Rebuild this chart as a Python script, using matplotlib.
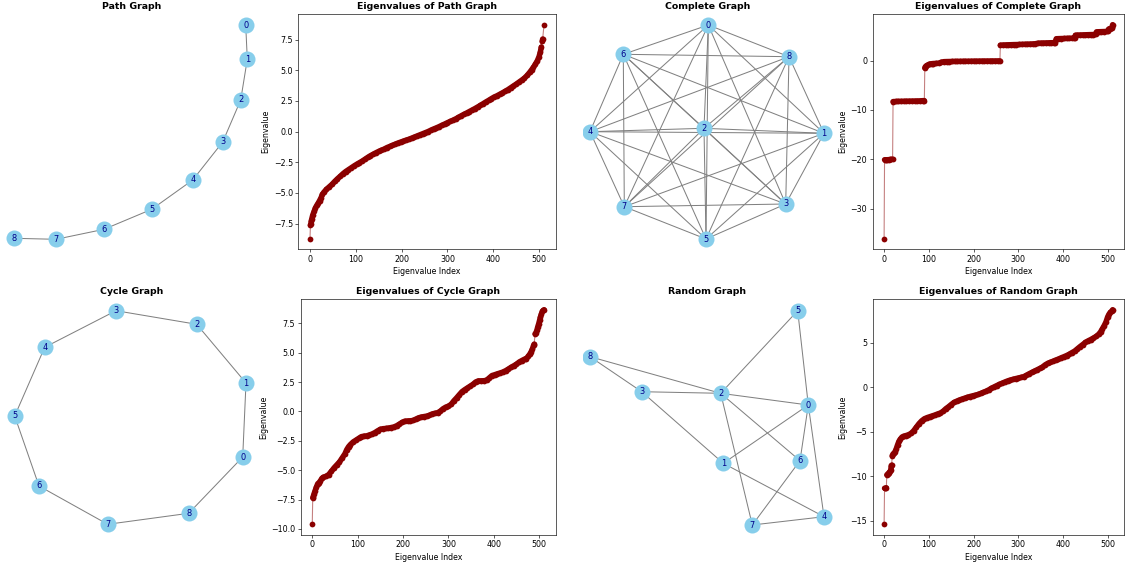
import matplotlib
matplotlib.use("Agg")
import matplotlib.pyplot as plt
import itertools

DPI = 56.3
W, H = 1126, 563

# ---------------- Graph data (node positions, pixel units) ----------------
path_nodes = [0, 1, 2, 3, 4, 5, 6, 7, 8]
path_pos = [(245.7, 25), (247.3, 59.3), (240.7, 100), (222.7, 142), (192.7, 180),
            (151.7, 209.3), (104, 229.3), (56, 239.3), (14, 238.3)]
path_edges = [(0, 1), (1, 2), (2, 3), (3, 4), (4, 5), (5, 6), (6, 7), (7, 8)]

complete_nodes = [0, 1, 2, 3, 4, 5, 6, 7, 8]
complete_pos = [(708.3, 25), (824, 133.3), (704, 128.3), (785.7, 204), (590, 131.7),
                (706, 239), (623.3, 54.3), (624.3, 206.7), (789, 56.7)]
complete_edges = list(itertools.combinations(complete_nodes, 2))

cycle_nodes = [0, 1, 2, 3, 4, 5, 6, 7, 8]
cycle_pos = [(242.7, 457), (246, 383), (196.7, 324.3), (116, 310.7), (44.7, 347.3),
             (14.7, 416), (39, 486), (107.7, 524.3), (188.7, 513.3)]
cycle_edges = [(0, 1), (1, 2), (2, 3), (3, 4), (4, 5), (5, 6), (6, 7), (7, 8), (8, 0)]

random_nodes = [0, 1, 2, 3, 4, 5, 6, 7, 8]
random_pos = [(808.3, 405), (723.3, 463.3), (720.7, 393.3), (641.7, 391.7), (824, 516.7),
              (797.7, 310.7), (800, 460.7), (752.3, 525), (590, 356.7)]
random_edges = [(5, 2), (5, 0), (8, 2), (8, 3), (3, 2), (3, 1), (2, 0), (2, 6), (2, 7),
                (0, 1), (0, 6), (0, 4), (1, 4), (6, 7), (7, 4)]

# ---------------- Eigenvalue data (index, value) ----------------
path_data = [
    (0, -8.72), (1, -7.6), (2, -7.5), (3, -7.25), (4, -7.1), (6, -6.8), (9, -6.5),
    (12, -6.2), (15, -6.0), (18, -5.82), (21, -5.62), (24, -5.4), (27, -5.12), (30, -4.95),
    (36, -4.7), (42, -4.5), (48, -4.3), (54, -4.06), (60, -3.84), (66, -3.64), (72, -3.43),
    (78, -3.25), (84, -3.1), (90, -2.95), (96, -2.8), (102, -2.66), (108, -2.53),
    (114, -2.4), (120, -2.25), (126, -2.1), (132, -1.96), (138, -1.84), (144, -1.72),
    (150, -1.61), (156, -1.51), (162, -1.42), (168, -1.3), (174, -1.21), (180, -1.12),
    (186, -1.02), (192, -0.93), (198, -0.85), (204, -0.77), (210, -0.69), (216, -0.62),
    (222, -0.53), (228, -0.44), (234, -0.35), (240, -0.26), (246, -0.17), (252, -0.08),
    (258, 0.01), (264, 0.12), (270, 0.22), (276, 0.31), (282, 0.41), (288, 0.52),
    (294, 0.62), (300, 0.73), (306, 0.83), (312, 0.93), (318, 1.04), (324, 1.16),
    (330, 1.29), (336, 1.41), (342, 1.52), (348, 1.64), (354, 1.76), (360, 1.88),
    (366, 2.01), (372, 2.14), (378, 2.28), (384, 2.42), (390, 2.55), (396, 2.69),
    (402, 2.82), (408, 2.92), (414, 3.04), (420, 3.16), (426, 3.29), (432, 3.42),
    (438, 3.57), (444, 3.72), (450, 3.87), (456, 4.03), (462, 4.19), (468, 4.36),
    (474, 4.58), (480, 4.85), (484, 5.05), (488, 5.25), (492, 5.5), (496, 5.75),
    (500, 6.1), (503, 6.5), (505, 6.9), (507, 7.35), (508, 7.55), (511, 8.72)]

complete_data = [
    (0, -36.1), (1, -20.1), (4, -20.1), (7, -20.1), (10, -20.08), (13, -20.05), (16, -20.05),
    (19, -20.0), (20, -8.3), (26, -8.28), (32, -8.26), (38, -8.25), (44, -8.24), (50, -8.22),
    (56, -8.21), (62, -8.2), (68, -8.19), (74, -8.18), (80, -8.16), (86, -8.12), (90, -8.1),
    (91, -1.5), (92, -1.25), (94, -1.05), (97, -0.9), (100, -0.75), (103, -0.66),
    (106, -0.62), (110, -0.58), (116, -0.55), (122, -0.52), (128, -0.3), (134, -0.2),
    (140, -0.18), (146, -0.17), (152, -0.16), (158, -0.15), (164, -0.15), (170, -0.14),
    (176, -0.13), (182, -0.12), (188, -0.12), (194, -0.11), (200, -0.1), (206, -0.1),
    (212, -0.09), (218, -0.08), (224, -0.08), (230, -0.07), (236, -0.07), (242, -0.06),
    (248, -0.06), (254, -0.05), (259, -0.05), (260, 3.15), (266, 3.18), (272, 3.2),
    (278, 3.22), (284, 3.24), (290, 3.26), (296, 3.27), (302, 3.29), (308, 3.31),
    (314, 3.33), (320, 3.35), (326, 3.37), (332, 3.4), (338, 3.43), (344, 3.55),
    (350, 3.57), (356, 3.58), (362, 3.6), (368, 3.62), (374, 3.64), (380, 3.66),
    (383, 3.68), (385, 4.45), (390, 4.47), (396, 4.49), (402, 4.5), (408, 4.52),
    (414, 4.54), (420, 4.56), (425, 4.58), (427, 4.6), (428, 5.15), (432, 5.2),
    (438, 5.21), (444, 5.23), (450, 5.25), (456, 5.27), (462, 5.29), (468, 5.3),
    (473, 5.32), (475, 5.85), (480, 5.87), (486, 5.89), (492, 5.91), (498, 5.93),
    (500, 5.95), (502, 6.4), (504, 6.5), (506, 6.52), (508, 6.56), (509, 6.6),
    (510, 6.8), (511, 7.3)]

cycle_data = [
    (0, -9.6), (1, -7.35), (2, -7.25), (4, -7.0), (6, -6.77), (9, -6.45), (12, -6.15),
    (15, -6.05), (18, -5.9), (21, -5.7), (24, -5.6), (30, -5.52), (36, -5.38), (42, -5.1),
    (48, -4.8), (54, -4.55), (60, -4.3), (66, -3.95), (72, -3.6), (76, -3.25), (80, -3.0),
    (84, -2.82), (90, -2.6), (96, -2.45), (102, -2.3), (108, -2.15), (114, -2.1),
    (120, -2.08), (126, -2.0), (132, -1.92), (138, -1.8), (144, -1.65), (150, -1.52),
    (156, -1.47), (162, -1.45), (168, -1.42), (174, -1.37), (180, -1.32), (186, -1.22),
    (192, -1.08), (198, -0.93), (204, -0.83), (210, -0.81), (216, -0.8), (222, -0.77),
    (228, -0.66), (234, -0.55), (240, -0.48), (246, -0.44), (252, -0.4), (258, -0.33),
    (264, -0.22), (270, -0.16), (276, -0.12), (282, 0.02), (288, 0.22), (294, 0.36),
    (300, 0.45), (306, 0.6), (312, 0.9), (318, 1.15), (324, 1.42), (330, 1.68),
    (336, 1.85), (342, 2.0), (348, 2.15), (354, 2.3), (360, 2.5), (366, 2.6), (372, 2.6),
    (378, 2.61), (384, 2.65), (390, 2.85), (396, 3.05), (402, 3.12), (408, 3.2),
    (414, 3.27), (420, 3.35), (426, 3.46), (432, 3.6), (438, 3.75), (444, 3.88),
    (450, 4.02), (456, 4.2), (462, 4.33), (468, 4.45), (472, 4.5), (476, 4.7),
    (479, 4.85), (482, 5.05), (485, 5.3), (488, 5.65), (489, 5.72), (491, 6.6),
    (493, 6.7), (495, 6.9), (497, 7.2), (499, 7.45), (501, 7.75), (503, 8.05),
    (505, 8.3), (507, 8.5), (509, 8.6), (511, 8.65)]

random_data = [
    (0, -15.4), (1, -11.35), (3, -11.35), (5, -11.3), (6, -9.85), (8, -9.75), (10, -9.65),
    (12, -9.55), (14, -9.4), (15, -9.35), (16, -8.8), (17, -8.75), (18, -7.7), (20, -7.5),
    (22, -7.4), (24, -7.3), (27, -6.95), (30, -6.5), (33, -6.1), (36, -5.85), (40, -5.6),
    (44, -5.5), (48, -5.45), (54, -5.35), (60, -5.2), (66, -4.9), (72, -4.5), (78, -4.1),
    (84, -3.78), (90, -3.55), (96, -3.42), (102, -3.32), (108, -3.22), (114, -3.12),
    (120, -3.0), (126, -2.9), (132, -2.7), (138, -2.42), (144, -2.2), (150, -1.95),
    (156, -1.72), (162, -1.58), (168, -1.45), (174, -1.34), (180, -1.24), (186, -1.14),
    (192, -1.05), (198, -0.97), (204, -0.9), (210, -0.82), (216, -0.7), (222, -0.58),
    (228, -0.45), (234, -0.3), (240, -0.12), (246, 0.03), (252, 0.18), (258, 0.32),
    (264, 0.45), (270, 0.58), (276, 0.7), (282, 0.8), (288, 0.88), (294, 0.96),
    (300, 1.03), (306, 1.1), (312, 1.18), (318, 1.32), (324, 1.5), (330, 1.65),
    (336, 1.8), (342, 1.95), (348, 2.1), (354, 2.26), (360, 2.5), (366, 2.68),
    (372, 2.8), (378, 2.92), (384, 3.05), (390, 3.16), (396, 3.3), (402, 3.42),
    (408, 3.55), (414, 3.7), (420, 3.88), (426, 4.05), (432, 4.3), (438, 4.55),
    (444, 4.78), (450, 5.02), (456, 5.2), (462, 5.35), (468, 5.52), (474, 5.7),
    (480, 5.95), (484, 6.2), (488, 6.55), (492, 6.9), (496, 7.3), (500, 7.9),
    (503, 8.2), (506, 8.4), (509, 8.55), (511, 8.7)]

graph_titles = ["Path Graph", "Complete Graph", "Cycle Graph", "Random Graph"]
eig_titles = ["Eigenvalues of Path Graph", "Eigenvalues of Complete Graph",
              "Eigenvalues of Cycle Graph", "Eigenvalues of Random Graph"]

fig = plt.figure(figsize=(W / DPI, H / DPI), dpi=DPI)


def box(x0, y0, x1, y1):
    return [x0 / W, 1 - y1 / H, (x1 - x0) / W, (y1 - y0) / H]


def draw_graph(rect_px, nodes, pos, edges, title):
    x0, y0, x1, y1 = rect_px
    ax = fig.add_axes(box(x0, y0, x1, y1))
    ax.set_xlim(x0, x1)
    ax.set_ylim(y1, y0)
    for a, b in edges:
        ax.plot([pos[a][0], pos[b][0]], [pos[a][1], pos[b][1]], color="gray",
                lw=1.3, zorder=1, solid_capstyle="butt")
    xs = [pos[n][0] for n in nodes]
    ys = [pos[n][1] for n in nodes]
    ax.scatter(xs, ys, s=420, color="skyblue", zorder=2, linewidths=0)
    for n in nodes:
        ax.text(pos[n][0], pos[n][1], str(n), ha="center", va="center",
                fontsize=10.5, color="darkblue", zorder=3)
    ax.set_title(title, fontsize=12, fontweight="bold")
    ax.axis("off")


MS = 7.4  # marker diameter in points


def draw_eig(rect_px, data, title):
    idx = [d[0] for d in data]
    eig = [d[1] for d in data]
    ax = fig.add_axes(box(*rect_px))
    ax.plot(idx, eig, color="darkred", alpha=0.5, lw=1.4, zorder=1)
    ax.plot(idx, eig, "o", color="darkred", ms=MS, markeredgewidth=0, zorder=2)
    ax.set_xlim(-25.5, 536.5)
    ax.autoscale_view()
    # the original has a marker at every index: fill the dense runs between
    # neighbouring read points with a band as wide as the markers
    pts = ax.transData.transform(list(zip(idx, eig)))
    run_x, run_y = [idx[0]], [eig[0]]
    for i in range(1, len(idx)):
        if abs(pts[i][1] - pts[i - 1][1]) < 5.5:
            run_x.append(idx[i])
            run_y.append(eig[i])
        else:
            if len(run_x) > 1:
                ax.plot(run_x, run_y, color="darkred", lw=MS * 0.95,
                        solid_capstyle="round", solid_joinstyle="round", zorder=2)
            run_x, run_y = [idx[i]], [eig[i]]
    if len(run_x) > 1:
        ax.plot(run_x, run_y, color="darkred", lw=MS * 0.95,
                solid_capstyle="round", solid_joinstyle="round", zorder=2)
    ax.set_title(title, fontsize=12, fontweight="bold")
    ax.set_xlabel("Eigenvalue Index")
    ax.set_ylabel("Eigenvalue")


draw_graph((5, 14, 258, 249), path_nodes, path_pos, path_edges, graph_titles[0])
draw_eig((298.3, 14, 555.7, 249.3), path_data, eig_titles[0])
draw_graph((583, 14, 832, 249), complete_nodes, complete_pos, complete_edges, graph_titles[1])
draw_eig((872.7, 14, 1124, 249.3), complete_data, eig_titles[1])
draw_graph((5, 299, 258, 535), cycle_nodes, cycle_pos, cycle_edges, graph_titles[2])
draw_eig((300.7, 299, 555.7, 535), cycle_data, eig_titles[2])
draw_graph((583, 299, 832, 535), random_nodes, random_pos, random_edges, graph_titles[3])
draw_eig((872.7, 299, 1124, 535), random_data, eig_titles[3])

fig.savefig("out.png", dpi=DPI)
